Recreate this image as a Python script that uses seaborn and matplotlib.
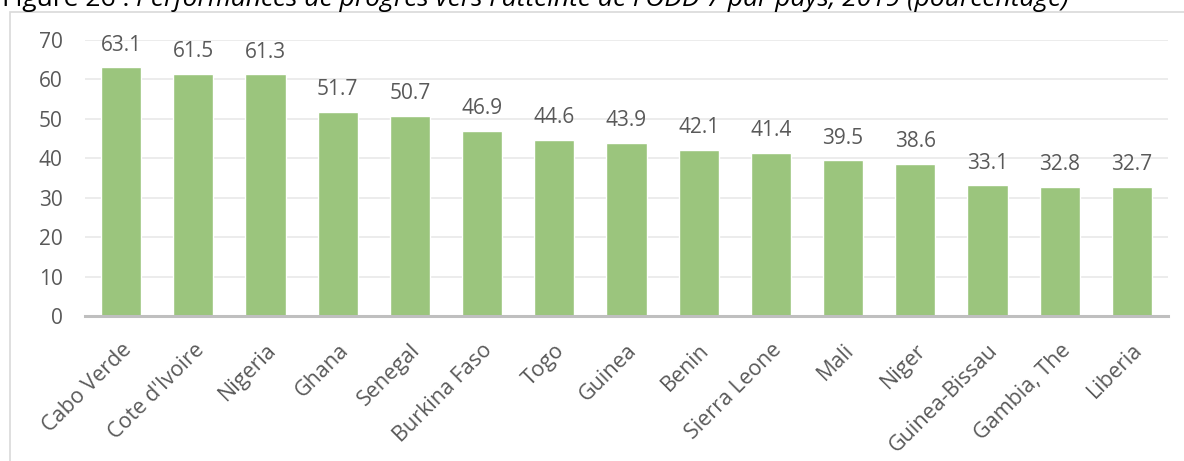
import matplotlib
matplotlib.use("Agg")
import matplotlib.pyplot as plt
import seaborn as sns
import pandas as pd
from matplotlib.patches import Rectangle

countries = ["Cabo Verde", "Cote d'Ivoire", "Nigeria", "Ghana", "Senegal",
             "Burkina Faso", "Togo", "Guinea", "Benin", "Sierra Leone",
             "Mali", "Niger", "Guinea-Bissau", "Gambia, The", "Liberia"]
scores = [63.1, 61.5, 61.3, 51.7, 50.7, 46.9, 44.6, 43.9, 42.1, 41.4,
          39.5, 38.6, 33.1, 32.8, 32.7]
y_ticks = [0, 10, 20, 30, 40, 50, 60, 70]

title_prefix = "Figure 26 : "
title_body = "Performances de progrès vers l'atteinte de l'ODD 7 par pays, 2019 (pourcentage)"

sns.set_theme(style="white")
plt.rcParams["font.family"] = ["Open Sans", "DejaVu Sans"]

text_color = "#595959"
bar_color = "#9BC57D"

df = pd.DataFrame({"country": countries, "score": scores})

fig = plt.figure(figsize=(11.84, 4.61), dpi=100)
ax = fig.add_axes([85 / 1184, 1 - 316 / 461, (1168 - 85) / 1184, (316 - 40) / 461])

sns.barplot(data=df, x="country", y="score", color=bar_color, width=0.555,
            saturation=1, ax=ax, zorder=3)

ax.set_xlim(-0.5, len(countries) - 0.5)
ax.set_ylim(0, 70)
ax.set_yticks(y_ticks)
ax.set_yticklabels([str(t) for t in y_ticks], color=text_color, fontsize=15)
ax.yaxis.grid(True, color="#E9E9E9", linewidth=1.2, zorder=0)
ax.set_axisbelow(True)
ax.tick_params(axis="y", length=0, pad=16)
ax.tick_params(axis="x", length=0, pad=17)
ax.set_xticks(range(len(countries)))
ax.set_xticklabels(countries, rotation=45, ha="right", rotation_mode="anchor",
                   color=text_color, fontsize=15.5)
ax.set_xlabel("")
ax.set_ylabel("")

for side in ["top", "right", "left"]:
    ax.spines[side].set_visible(False)
ax.spines["bottom"].set_color("#BFBFBF")
ax.spines["bottom"].set_linewidth(2.2)
ax.spines["bottom"].set_zorder(4)

for i, v in enumerate(scores):
    ax.annotate(f"{v:.1f}", xy=(i, v), xytext=(0, 12), textcoords="offset points",
                ha="center", va="baseline", fontsize=15, color=text_color)

# chart frame
fig.patches.append(Rectangle((10 / 1184, -0.1), 1.2, 1 - 12 / 461 + 0.1,
                             transform=fig.transFigure, fill=False,
                             edgecolor="#D9D9D9", linewidth=1.2))

# caption above the frame
t1 = fig.text(2 / 1184, 1 - 6 / 461, title_prefix, fontsize=19, color="#000000",
              ha="left", va="baseline")
fig.canvas.draw()
bb = t1.get_window_extent()
fig.text(bb.x1 / 1184, 1 - 6 / 461, title_body, fontsize=19, style="italic",
         color="#000000", ha="left", va="baseline")

fig.savefig("out.png", dpi=100)
